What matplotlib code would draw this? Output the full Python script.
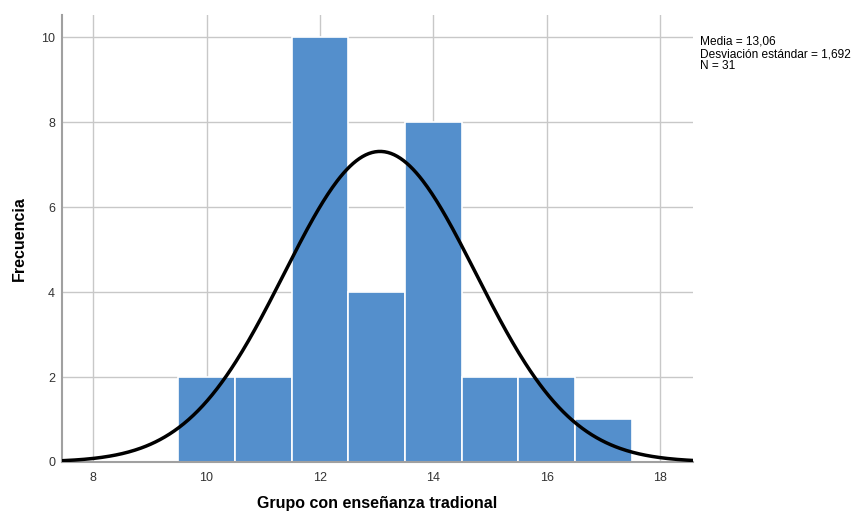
import numpy as np
import matplotlib
matplotlib.use("Agg")
from matplotlib import pyplot as plt

plt.rcParams['font.family'] = ['Liberation Sans', 'DejaVu Sans']

bin_edges = [9.5, 10.5, 11.5, 12.5, 13.5, 14.5, 15.5, 16.5, 17.5]
counts = [2, 2, 10, 4, 8, 2, 2, 1]
mean = 13.06
std = 1.692
n = 31
x_ticks = [8, 10, 12, 14, 16, 18]
y_ticks = [0, 2, 4, 6, 8, 10]

fig = plt.figure(figsize=(8.56, 5.14), dpi=100)
ax = fig.add_axes([0.0724, 0.1012, 0.7372, 0.8696])

ax.set_xlim(7.45, 18.58)
ax.set_ylim(0, 10.52)
ax.set_xticks(x_ticks)
ax.set_yticks(y_ticks)
ax.grid(True, color="#c8c8c8", lw=1)
ax.set_axisbelow(True)

widths = np.diff(bin_edges)
ax.bar(bin_edges[:-1], counts, width=widths, align="edge",
       color="#548fcc", edgecolor="white", lw=1.2, zorder=2)

xs = np.linspace(7.45, 18.58, 400)
bw = widths[0]
ys = n * bw * np.exp(-0.5 * ((xs - mean) / std) ** 2) / (std * np.sqrt(2 * np.pi))
ax.plot(xs, ys, color="black", lw=2.5, zorder=3)

for s in ["top", "right"]:
    ax.spines[s].set_visible(False)
for s in ["left", "bottom"]:
    ax.spines[s].set_color("#a0a0a0")
    ax.spines[s].set_linewidth(1.5)
ax.tick_params(length=0, labelsize=9, pad=5, colors="#333333")
ax.tick_params(axis="x", pad=7)

ax.set_ylabel("Frecuencia", fontsize=11.5, fontweight="bold", labelpad=10)
ax.set_xlabel("Grupo con enseñanza tradional", fontsize=11.5, fontweight="bold", labelpad=9)

fig.text(0.818, 0.93, "Media = 13,06\nDesviación estándar = 1,692\nN = 31",
         fontsize=8.6, va="top", ha="left", linespacing=1.02)

fig.savefig("out.png", dpi=100)
